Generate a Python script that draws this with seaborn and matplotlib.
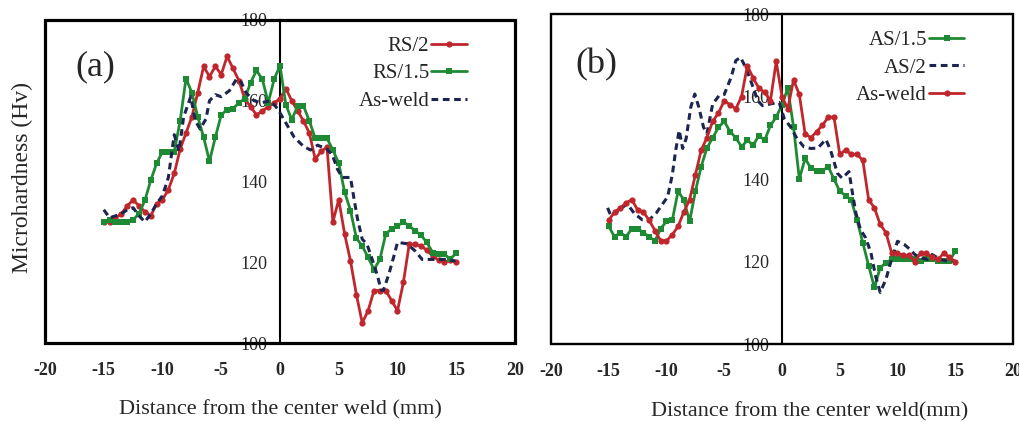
import numpy as np
import pandas as pd
import matplotlib
matplotlib.use("Agg")
import matplotlib.pyplot as plt
from matplotlib.patches import Rectangle
import seaborn as sns

# ---------------- data ----------------
x_grid = [-15, -14.5, -14, -13.5, -13, -12.5, -12, -11.5, -11, -10.5, -10, -9.5, -9, -8.5,
          -8, -7.5, -7, -6.5, -6, -5.5, -5, -4.5, -4, -3.5, -3, -2.5, -2, -1.5, -1, -0.5,
          0, 0.5, 1, 1.5, 2, 2.5, 3, 3.5, 4, 4.5, 5, 5.5, 6, 6.5, 7, 7.5, 8, 8.5, 9, 9.5,
          10, 10.5, 11, 11.5, 12, 12.5, 13, 13.5, 14, 14.5, 15]

# panel (a)
rs2 = [130, 130, 131, 132, 134, 135.4, 134, 132.5, 131.5, 134.5, 135.5, 138, 142, 148,
       152, 156, 162, 168.5, 166, 168.5, 166.5, 171, 168, 165, 160.5, 158.5, 156.5, 157.5,
       158.5, 159.5, 160.5, 163, 160, 157.5, 155, 152, 145.5, 147.5, 148.5, 130, 135.5,
       127, 120.3, 112, 105, 108, 113, 113, 113, 110.5, 108, 115, 124.5, 124.5, 124, 123,
       121.5, 120.5, 120, 120.5, 120]
rs15 = [130, 130.5, 130, 130, 130, 130.5, 132, 135.3, 140.3, 144.5, 147.4, 147.4, 147.4,
        155, 165.5, 162, 156, 151, 145, 151, 156.5, 157.8, 158, 159.5, 160.5, 164.5, 167.5,
        165.3, 159.5, 165.3, 168.7, 159, 155.3, 158.7, 158.7, 155, 150.7, 150.7, 150.7,
        147.8, 144.5, 137.4, 132.8, 126, 124, 121.2, 118.2, 120.7, 127, 128.3, 129, 130,
        129, 127.8, 126.7, 124.9, 122.4, 122, 122, 120.7, 122.4]
aw_a_x = [-15, -14.5, -14, -13.5, -13, -12.5, -12, -11.5, -11, -10.5, -10, -9.5, -9, -8.6,
          -8.2, -7.6, -7.2, -6.8, -6.3, -6.0, -5.5, -5.0, -4.3, -3.7, -3.3, -2.9, -2.2,
          -1.6, -0.8, -0.2, 0.6, 1.2, 2.0, 2.6, 3.2, 4.0, 4.45, 4.9, 5.3, 6.0, 6.3, 6.6,
          7.0, 7.4, 7.85, 8.3, 8.6, 8.8, 9.3, 9.7, 10.0, 10.8, 11.5, 12.1, 13.1, 14.0, 14.95]
aw_a_y = [133, 131, 131.5, 132, 133, 133.5, 131.5, 130, 132, 134.5, 136.5, 141, 151.6, 147.5,
          156, 161, 155, 153, 155.5, 160, 161.5, 161, 162.5, 165.4, 164.6, 162, 160,
          159.5, 160, 158, 154, 151, 148.7, 147.8, 149, 148, 146.6, 143, 141, 141,
          135.7, 130.7, 125.7, 124.5, 120.7, 116.6, 113.2, 113, 117.4, 121.6, 124.9, 124.6,
          122.8, 120.7, 120.7, 120.7, 120.3]

# panel (b)
as15 = [128.5, 126, 127, 126, 128, 128, 127, 126, 125, 128, 129.7, 130, 137, 135, 129.7,
        137, 143, 147.5, 150, 152.5, 154, 151.5, 150, 147.8, 149.4, 148.2, 150.5, 149.4,
        153, 155, 158, 162, 152.6, 140, 145, 142.6, 142, 142, 143, 140, 137, 136, 134.9,
        130, 124.5, 119, 113.7, 118.5, 119.7, 120.5, 120.6, 120.6, 120.6, 120.5, 120.1,
        120.5, 120.5, 120.1, 120.1, 120.1, 122.5]
aw_b = [130, 132, 133, 134.2, 135, 132.5, 132, 130, 127.5, 125, 125, 126.5, 128.5, 132,
        135, 141, 147, 150, 154, 156, 159, 158, 157, 160, 167.5, 164.5, 162, 161, 159,
        168.5, 160, 157, 164, 160.5, 151, 150, 151.5, 153, 155, 155, 146, 147, 146, 146,
        144.5, 135, 133, 129, 127, 122, 122, 121.5, 121.5, 120, 122, 122, 121, 120.5, 122,
        121, 120]
as2_x = [-15.1, -14.8, -14.1, -13.4, -12.8, -12.1, -11.5, -10.9, -10.4, -9.9, -9.5, -9.2,
         -8.9, -8.6, -8.3, -7.9, -7.55, -7.2, -6.8, -6.5, -6.0, -5.45, -5.0, -4.4, -4.0,
         -3.6, -3.15, -2.6, -2.1, -1.7, -1.0, -0.25, 0.2, 0.75, 1.3, 1.9, 2.5, 3.1, 3.8,
         4.2, 4.8, 5.2, 5.8, 6.1, 6.4, 6.8, 7.25, 7.7, 8.1, 8.5, 9.0, 9.4, 10.0, 10.6,
         11.1, 11.5, 12.0, 12.6, 13.0, 13.7, 14.3, 15.0]
as2_y = [133, 131, 132.5, 134, 131.7, 130.1, 130.1, 131.7, 133.7, 135.7, 141, 147, 151.8,
         147.4, 149.8, 157.4, 160.6, 157.4, 152.6, 151, 158.2, 160.2, 160.5, 164.7, 168.7,
         169.5, 167.1, 163, 159, 157.8, 158.2, 158.6, 154.6, 152.6, 149.8, 147.8, 147.4,
         147.5, 149.6, 147, 141.4, 140.2, 141.8, 136.6, 131.7, 127.7, 125.7, 122.1, 116.5,
         112.5, 115.7, 119.7, 124.9, 124.1, 122.9, 121.7, 120.9, 120.5, 121.7, 120.5,
         120.1, 120.1]

x_ticks = [-20, -15, -10, -5, 0, 5, 10, 15, 20]
y_ticks = [100, 120, 140, 160, 180]

RED = "#C0272D"
GREEN = "#1F8A34"
NAVY = "#1C2550"

# ---------------- style ----------------
sns.set_style("white")
plt.rcParams["font.family"] = ["Liberation Serif", "DejaVu Serif"]
plt.rcParams["axes.unicode_minus"] = False

fig = plt.figure(figsize=(10.2, 4.23), dpi=100)
axA = fig.add_axes([45 / 1020, 1 - 343 / 423, 470 / 1020, 323 / 423])
axB = fig.add_axes([551 / 1020, 1 - 344 / 423, 462 / 1020, 330 / 423])


def draw(ax, series, legend_xy, label, label_xy, xlabel, frame_lw):
    handles = []
    for xs, ys, name, color, dashed, marker, ms in series:
        df = pd.DataFrame({"x": xs, "y": ys})
        sns.lineplot(data=df, x="x", y="y", ax=ax, sort=False, estimator=None,
                     color=color, lw=2.0 if not dashed else 2.2,
                     linestyle=(0, (2.2, 1.5)) if dashed else "-",
                     marker=marker if marker else None, markersize=ms,
                     markeredgewidth=0, zorder=4)
        handles.append(ax.lines[-1])
    for s in ["top", "right", "bottom"]:
        ax.spines[s].set_visible(False)
    ax.spines["left"].set_position(("data", 0))
    ax.spines["left"].set_linewidth(1.5)
    ax.spines["left"].set_color("black")
    ax.set_xlim(-20, 20)
    ax.set_ylim(100, 180)
    ax.set_xticks(x_ticks)
    ax.set_yticks(y_ticks)
    ax.set_xticklabels([str(v) for v in x_ticks], fontsize=13, fontweight="bold")
    ax.set_yticklabels([str(v) for v in y_ticks], fontsize=13)
    ax.tick_params(axis="y", direction="out", length=4, width=1.2, pad=5,
                   color="black", labelsize=13)
    ax.tick_params(axis="x", direction="inout", length=5, width=1.2, pad=11, color="black")
    ax.add_patch(Rectangle((0, 0), 1, 1, transform=ax.transAxes, fill=False,
                           lw=frame_lw, ec="black", zorder=6, clip_on=False))
    ax.set_xlabel(xlabel, fontsize=16, labelpad=15)
    ax.set_ylabel("")
    ax.legend(handles, [s[2] for s in series], loc="upper right",
              bbox_to_anchor=legend_xy, frameon=False, markerfirst=False,
              fontsize=15, handlelength=1.7, handletextpad=0.1,
              labelspacing=0.38, borderaxespad=0)
    ax.text(label_xy[0], label_xy[1], label, transform=ax.transAxes,
            fontsize=26, ha="center", va="center")


draw(axA,
     [(x_grid, rs2, "RS/2", RED, False, "o", 4.5),
      (x_grid, rs15, "RS/1.5", GREEN, False, "s", 3.8),
      (aw_a_x, aw_a_y, "As-weld", NAVY, True, None, 0)],
     (0.915, 0.975), "(a)", (0.108, 0.855),
     "Distance from the center weld (mm)", 2.3)

draw(axB,
     [(x_grid, as15, "AS/1.5", GREEN, False, "s", 3.8),
      (as2_x, as2_y, "AS/2", NAVY, True, None, 0),
      (x_grid, aw_b, "As-weld", RED, False, "o", 4.5)],
     (0.913, 0.975), "(b)", (0.098, 0.845),
     "Distance from the center weld(mm)", 1.7)
axB.xaxis.set_label_coords(0.56, -0.175)

fig.text(22 / 1020, 1 - 177 / 423, "Microhardness (Hv)", rotation=90,
         fontsize=17, ha="center", va="center")

fig.savefig("out.png", dpi=100)
